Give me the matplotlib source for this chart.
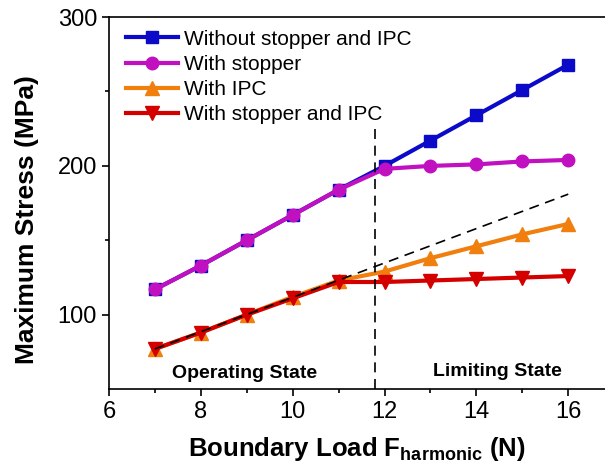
import numpy as np
import matplotlib
matplotlib.use('Agg')
import matplotlib.pyplot as plt

plt.rcParams['font.family'] = ['Liberation Sans', 'DejaVu Sans']

load = [7, 8, 9, 10, 11, 12, 13, 14, 15, 16]
no_stopper_no_ipc = [117, 133, 150, 167, 184, 200, 217, 234, 251, 268]
with_stopper = [117, 133, 150, 167, 184, 198, 200, 201, 203, 204]
with_ipc = [77, 88, 100, 112, 123, 129, 138, 146, 154, 161]
with_stopper_ipc = [77, 88, 100, 111, 122, 122, 123, 124, 125, 126]

# linear trend of the operating state, extended
trend_x = [7, 16]
trend_y = [77, 181]
boundary_x = 11.8
boundary_top = 227

fig = plt.figure(figsize=(6.05, 4.74), dpi=100)
ax = fig.add_axes([0.18, 0.179, 0.82, 0.785])

lw, ms = 3, 9
ax.plot(load, no_stopper_no_ipc, '-s', color='#0a0ac8', lw=lw, ms=ms,
        label='Without stopper and IPC')
ax.plot(load, with_stopper, '-o', color='#c010c0', lw=lw, ms=ms,
        label='With stopper')
ax.plot(load, with_ipc, '-^', color='#f07f0e', lw=lw, ms=ms + 1,
        label='With IPC')
ax.plot(load, with_stopper_ipc, '-v', color='#d40000', lw=lw, ms=ms + 1,
        label='With stopper and IPC')

ax.plot(trend_x, trend_y, '--', color='black', lw=1.2, dashes=(6, 4))
ax.plot([boundary_x, boundary_x], [50, boundary_top], '--', color='black',
        lw=1.2, dashes=(6, 4))

ax.text(8.95, 60.5, 'Operating State', ha='center', va='center',
        fontsize=14, fontweight='bold')
ax.text(14.45, 62, 'Limiting State', ha='center', va='center',
        fontsize=14, fontweight='bold')

ax.set_xlim(6, 16.8)
ax.set_ylim(50, 300)
ax.set_xticks([6, 8, 10, 12, 14, 16])
ax.set_xticks([7, 9, 11, 13, 15], minor=True)
ax.set_yticks([100, 200, 300])
ax.set_yticks([150, 250], minor=True)
ax.tick_params(axis='both', which='major', labelsize=17, length=5, width=1.2)
ax.tick_params(axis='both', which='minor', length=3, width=1.2)
for side in ['left', 'bottom', 'top']:
    ax.spines[side].set_linewidth(1.2)
ax.spines['right'].set_visible(False)

ax.set_xlabel('Boundary Load F$_\\mathregular{harmonic}$ (N)', fontsize=18.5,
              fontweight='bold', labelpad=9)
ax.set_ylabel('Maximum Stress (MPa)', fontsize=19, fontweight='bold')
ax.yaxis.set_label_coords(-0.14, 0.455)

ax.legend(loc='upper left', frameon=False, fontsize=15, handlelength=2.5,
          handletextpad=0.25, labelspacing=0.3, borderaxespad=0.2,
          bbox_to_anchor=(0.01, 1.0))

fig.savefig('out.png', dpi=100)
